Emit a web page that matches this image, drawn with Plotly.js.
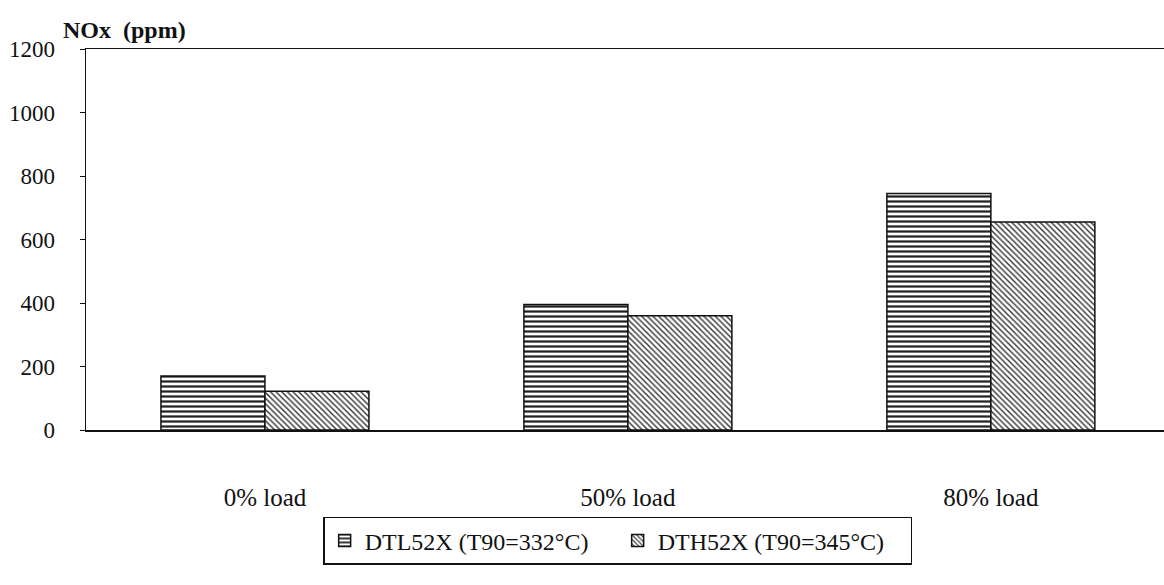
<!DOCTYPE html>
<html>
<head>
<meta charset="utf-8">
<script src="https://cdn.plot.ly/plotly-3.0.1.min.js"></script>
<style>html,body{margin:0;padding:0;background:#fff;}#chart{width:1164px;height:585px;}</style>
</head>
<body>
<div id="chart"></div>
<script>
const categories = ["0% load", "50% load", "80% load"];
const seriesNames = ["DTL52X (T90=332°C)", "DTH52X (T90=345°C)"];
const dtlValues = [170, 395, 745];
const dthValues = [122, 360, 655];
const yTickValues = [0, 200, 400, 600, 800, 1000, 1200];

const serif = "Liberation Serif, Times New Roman, serif";

const traces = [
  {
    type: "bar", name: seriesNames[0], x: categories, y: dtlValues,
    marker: {color: "#ffffff", line: {color: "#111", width: 1.5},
      pattern: {shape: "-", fgcolor: "#222", bgcolor: "#ffffff", size: 5, solidity: 0.45}}
  },
  {
    type: "bar", name: seriesNames[1], x: categories, y: dthValues,
    marker: {color: "#ffffff", line: {color: "#111", width: 1.5},
      pattern: {shape: "\\", fgcolor: "#333", bgcolor: "#ffffff", size: 4, solidity: 0.35}}
  }
];

const layout = {
  width: 1164, height: 585,
  margin: {l: 86, r: 0, t: 49, b: 155},
  paper_bgcolor: "#ffffff", plot_bgcolor: "#ffffff",
  font: {family: serif, size: 22, color: "#111"},
  barmode: "group", bargap: 0.427, bargroupgap: 0,
  showlegend: true,
  legend: {
    orientation: "h", x: 0.22, xanchor: "left", y: -0.228, yanchor: "top",
    bordercolor: "#111", borderwidth: 1.5, bgcolor: "#ffffff",
    font: {family: serif, size: 24, color: "#111"}, itemwidth: 30,
    entrywidth: 248, entrywidthmode: "pixels",
    traceorder: "normal"
  },
  xaxis: {
    type: "category", range: [-0.493, 2.477],
    showline: true, linecolor: "#111", linewidth: 1.5, mirror: true,
    ticks: "", showgrid: false, zeroline: false,
    ticklabelstandoff: 44,
    tickfont: {family: serif, size: 25, color: "#111"}
  },
  yaxis: {
    range: [0, 1200], tickvals: yTickValues,
    showline: true, linecolor: "#111", linewidth: 1.5,
    ticks: "outside", ticklen: 5, tickcolor: "#111",
    showgrid: false, zeroline: false,
    ticklabelstandoff: 20,
    tickfont: {family: serif, size: 23, color: "#111"}
  },
  annotations: [{
    text: "<b>NOx  (ppm)</b>", xref: "paper", yref: "paper",
    x: -0.023, y: 1.0, xanchor: "left", yanchor: "bottom", yshift: 4,
    showarrow: false, font: {family: serif, size: 24, color: "#111"}
  }]
};

Plotly.newPlot("chart", traces, layout, {displayModeBar: false, staticPlot: true});
</script>
</body>
</html>
